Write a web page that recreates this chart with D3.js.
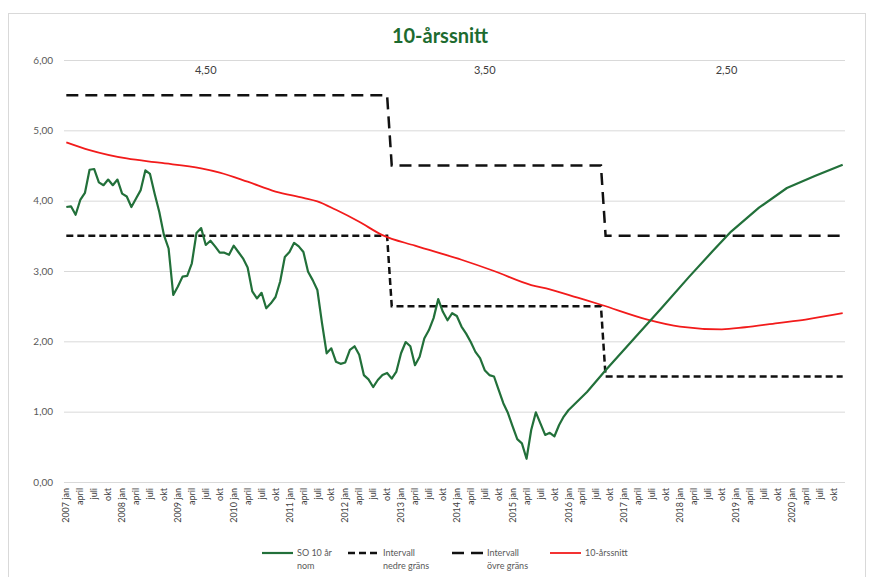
<!DOCTYPE html>
<html>
<head>
<meta charset="utf-8">
<script src="https://cdn.jsdelivr.net/npm/d3@7"></script>
<style>
  body { margin: 0; background: #fff; }
  svg text { font-family: Lato, "Open Sans", sans-serif; }
</style>
</head>
<body>
<svg id="chart"></svg>
<script>
// categories: one per month, 2007 jan .. 2020 dec
const years = [2007, 2008, 2009, 2010, 2011, 2012, 2013, 2014, 2015, 2016, 2017, 2018, 2019, 2020];
const monthNames = ["jan", "feb", "mars", "april", "maj", "juni", "juli", "aug", "sep", "okt", "nov", "dec"];
const tickMonths = ["jan", "april", "juli", "okt"];
const yTicks = [0, 1, 2, 3, 4, 5, 6];

// SO 10 år nom
const soNom = [
  ["2007 jan", 3.91], ["2007 feb", 3.92], ["2007 mars", 3.80], ["2007 april", 4.01], ["2007 maj", 4.11], ["2007 juni", 4.44],
  ["2007 juli", 4.45], ["2007 aug", 4.26], ["2007 sep", 4.22], ["2007 okt", 4.30], ["2007 nov", 4.22], ["2007 dec", 4.30],
  ["2008 jan", 4.10], ["2008 feb", 4.06], ["2008 mars", 3.91], ["2008 april", 4.03], ["2008 maj", 4.15], ["2008 juni", 4.43],
  ["2008 juli", 4.38], ["2008 aug", 4.10], ["2008 sep", 3.84], ["2008 okt", 3.51], ["2008 nov", 3.32], ["2008 dec", 2.66],
  ["2009 jan", 2.78], ["2009 feb", 2.92], ["2009 mars", 2.93], ["2009 april", 3.11], ["2009 maj", 3.54], ["2009 juni", 3.61],
  ["2009 juli", 3.37], ["2009 aug", 3.43], ["2009 sep", 3.35], ["2009 okt", 3.26], ["2009 nov", 3.26], ["2009 dec", 3.23],
  ["2010 jan", 3.36], ["2010 feb", 3.27], ["2010 mars", 3.18], ["2010 april", 3.05], ["2010 maj", 2.71], ["2010 juni", 2.61],
  ["2010 juli", 2.69], ["2010 aug", 2.47], ["2010 sep", 2.54], ["2010 okt", 2.63], ["2010 nov", 2.85], ["2010 dec", 3.20],
  ["2011 jan", 3.27], ["2011 feb", 3.40], ["2011 mars", 3.35], ["2011 april", 3.27], ["2011 maj", 2.99], ["2011 juni", 2.87],
  ["2011 juli", 2.73], ["2011 aug", 2.26], ["2011 sep", 1.83], ["2011 okt", 1.90], ["2011 nov", 1.71], ["2011 dec", 1.68],
  ["2012 jan", 1.70], ["2012 feb", 1.88], ["2012 mars", 1.93], ["2012 april", 1.81], ["2012 maj", 1.52], ["2012 juni", 1.46],
  ["2012 juli", 1.35], ["2012 aug", 1.45], ["2012 sep", 1.52], ["2012 okt", 1.55], ["2012 nov", 1.47], ["2012 dec", 1.57],
  ["2013 jan", 1.83], ["2013 feb", 1.99], ["2013 mars", 1.93], ["2013 april", 1.66], ["2013 maj", 1.78], ["2013 juni", 2.04],
  ["2013 juli", 2.16], ["2013 aug", 2.33], ["2013 sep", 2.60], ["2013 okt", 2.42], ["2013 nov", 2.30], ["2013 dec", 2.40],
  ["2014 jan", 2.36], ["2014 feb", 2.21], ["2014 mars", 2.11], ["2014 april", 1.99], ["2014 maj", 1.85], ["2014 juni", 1.76],
  ["2014 juli", 1.59], ["2014 aug", 1.52], ["2014 sep", 1.50], ["2014 okt", 1.31], ["2014 nov", 1.12], ["2014 dec", 0.98],
  ["2015 jan", 0.79], ["2015 feb", 0.61], ["2015 mars", 0.55], ["2015 april", 0.33], ["2015 maj", 0.74], ["2015 juni", 0.99],
  ["2015 juli", 0.83], ["2015 aug", 0.67], ["2015 sep", 0.70], ["2015 okt", 0.65], ["2015 nov", 0.81], ["2015 dec", 0.93],
  ["2016 jan", 1.02], ["2016 maj", 1.28], ["2016 sep", 1.59], ["2017 mars", 2.03], ["2017 sep", 2.47],
  ["2018 mars", 2.92], ["2018 aug", 3.28], ["2018 dec", 3.56], ["2019 juni", 3.90], ["2019 dec", 4.18],
  ["2020 juni", 4.35], ["2020 dec", 4.51]
];

// Intervall nedre gräns
const lowerBound = [["2007 jan", 3.5], ["2012 okt", 3.5], ["2012 nov", 2.5], ["2016 aug", 2.5], ["2016 sep", 1.5], ["2020 dec", 1.5]];
// Intervall övre gräns
const upperBound = [["2007 jan", 5.5], ["2012 okt", 5.5], ["2012 nov", 4.5], ["2016 aug", 4.5], ["2016 sep", 3.5], ["2020 dec", 3.5]];

// 10-årssnitt
const avg10 = [
  ["2007 jan", 4.83], ["2007 juni", 4.72], ["2008 feb", 4.60], ["2008 sep", 4.54], ["2009 juni", 4.46], ["2009 okt", 4.40],
  ["2010 april", 4.27], ["2010 okt", 4.13], ["2011 april", 4.04], ["2011 juli", 3.99], ["2011 nov", 3.87], ["2012 april", 3.70],
  ["2012 sep", 3.51], ["2013 april", 3.36], ["2014 feb", 3.16], ["2014 sep", 3.00], ["2015 maj", 2.80], ["2015 sep", 2.74],
  ["2016 mars", 2.62], ["2016 aug", 2.52], ["2017 juni", 2.31], ["2018 jan", 2.21], ["2018 okt", 2.17], ["2019 mars", 2.20],
  ["2019 okt", 2.26], ["2020 april", 2.31], ["2020 dec", 2.40]
];

// interval midpoints written above the plot
const midLabels = ["4,50", "3,50", "2,50"];
const midMonths = ["2009 juli", "2014 juli", "2018 nov"];

const months = years.flatMap(yr => monthNames.map(m => `${yr} ${m}`));

const width = 873, height = 577;
const margin = { top: 60, right: 28, bottom: 95, left: 64 };

const svg = d3.select("#chart")
  .attr("width", width)
  .attr("height", height);

// chart frame
svg.append("rect")
  .attr("x", 8.5).attr("y", 13.5)
  .attr("width", 857).attr("height", 580)
  .attr("fill", "#fff")
  .attr("stroke", "#d9d9d9");

const x = d3.scaleBand()
  .domain(months)
  .range([margin.left, width - margin.right]);
const xc = m => x(m) + x.bandwidth() / 2;

const y = d3.scaleLinear()
  .domain([0, 6])
  .range([height - margin.bottom, margin.top]);

// gridlines + y labels
const yAxis = d3.axisLeft(y)
  .tickValues(yTicks)
  .tickSize(-(width - margin.left - margin.right))
  .tickPadding(11)
  .tickFormat(d => d3.format(".2f")(d).replace(".", ","));

svg.append("g")
  .attr("transform", `translate(${margin.left},0)`)
  .call(yAxis)
  .call(g => g.select(".domain").remove())
  .call(g => g.selectAll(".tick line").attr("stroke", "#d9d9d9"))
  .call(g => g.selectAll(".tick text").attr("fill", "#595959").style("font-size", "10px"));

// x labels, rotated
const xAxis = d3.axisBottom(x)
  .tickValues(months.filter(m => tickMonths.includes(m.split(" ")[1])))
  .tickSize(0)
  .tickFormat(m => m.endsWith("jan") ? m : m.split(" ")[1]);

svg.append("g")
  .attr("transform", `translate(0,${height - margin.bottom})`)
  .call(xAxis)
  .call(g => g.select(".domain").remove())
  .selectAll("text")
  .attr("fill", "#404040")
  .style("font-size", "9px")
  .style("text-anchor", "end")
  .attr("dx", "-6px")
  .attr("dy", "0.35em")
  .attr("y", 0)
  .attr("x", 0)
  .attr("transform", "rotate(-90)");

const line = d3.line()
  .x(d => xc(d[0]))
  .y(d => y(d[1]));

svg.append("path")
  .datum(lowerBound)
  .attr("fill", "none")
  .attr("stroke", "#111")
  .attr("stroke-width", 2.5)
  .attr("stroke-dasharray", "7,4")
  .attr("d", line);

svg.append("path")
  .datum(upperBound)
  .attr("fill", "none")
  .attr("stroke", "#111")
  .attr("stroke-width", 2.5)
  .attr("stroke-dasharray", "12,7")
  .attr("d", line);

svg.append("path")
  .datum(avg10)
  .attr("fill", "none")
  .attr("stroke", "#f21b1b")
  .attr("stroke-width", 1.8)
  .attr("d", line.curve(d3.curveMonotoneX));

svg.append("path")
  .datum(soNom)
  .attr("fill", "none")
  .attr("stroke", "#22703a")
  .attr("stroke-width", 2.2)
  .attr("stroke-linejoin", "round")
  .attr("d", line.curve(d3.curveLinear));

// midpoint labels
svg.selectAll(".mid")
  .data(midLabels)
  .enter().append("text")
  .attr("x", (d, i) => xc(midMonths[i]))
  .attr("y", 74)
  .attr("text-anchor", "middle")
  .attr("fill", "#404040")
  .style("font-size", "11px")
  .text(d => d);

// title
svg.append("text")
  .attr("x", 440)
  .attr("y", 43)
  .attr("text-anchor", "middle")
  .attr("fill", "#1d6b2f")
  .style("font-size", "20px")
  .style("font-weight", "bold")
  .text("10-årssnitt");

// legend
const legend = [
  { x: 262, lines: ["SO 10 år", "nom"], color: "#22703a", dash: null, w: 2.2 },
  { x: 348, lines: ["Intervall", "nedre gräns"], color: "#111", dash: "7,4", w: 2.5 },
  { x: 452, lines: ["Intervall", "övre gräns"], color: "#111", dash: "12,7", w: 2.5 },
  { x: 550, lines: ["10-årssnitt"], color: "#f21b1b", dash: null, w: 1.8 }
];

const lg = svg.selectAll(".legend")
  .data(legend)
  .enter().append("g")
  .attr("transform", d => `translate(${d.x},553)`);

lg.append("line")
  .attr("x1", 0).attr("x2", 31)
  .attr("stroke", d => d.color)
  .attr("stroke-width", d => d.w)
  .attr("stroke-dasharray", d => d.dash);

lg.append("text")
  .attr("x", 35)
  .attr("y", 3)
  .attr("fill", "#595959")
  .style("font-size", "9px")
  .selectAll("tspan")
  .data(d => d.lines)
  .enter().append("tspan")
  .attr("x", 35)
  .attr("dy", (d, i) => i === 0 ? 0 : 13)
  .text(d => d);
</script>
</body>
</html>
